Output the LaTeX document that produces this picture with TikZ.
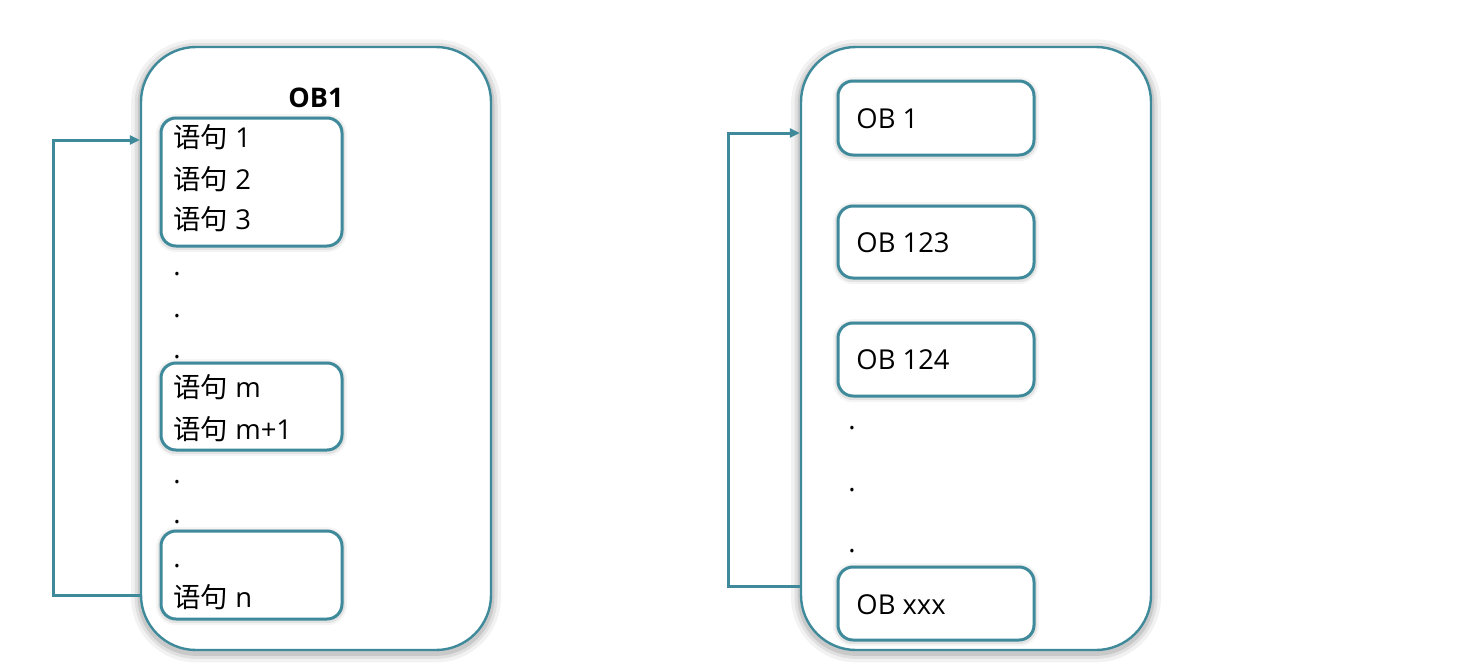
\documentclass[tikz,border=0pt]{standalone}
\usepackage{fontspec}
\setmainfont{Open Sans}
\newfontfamily\cjk{Noto Sans CJK SC}
\usetikzlibrary{arrows.meta}
\definecolor{tealline}{RGB}{62,138,155}
\begin{document}
\begin{tikzpicture}[x=0.5pt,y=-0.5pt,
  bigbox/.style={draw=tealline, line width=1.2pt, rounded corners=27.5pt, fill=white,
    minimum width=175pt, minimum height=301.5pt, inner sep=0pt,
    preaction={draw=black, draw opacity=0.05, line width=10pt, transform canvas={yshift=-1.2pt}},
    preaction={draw=black, draw opacity=0.07, line width=6.5pt, transform canvas={yshift=-1.2pt}},
    preaction={draw=black, draw opacity=0.10, line width=3.5pt, transform canvas={yshift=-1.2pt}}},
  smallbox/.style={draw=tealline, line width=1.5pt, rounded corners=7.5pt, fill=white, inner sep=0pt,
    preaction={draw=black, draw opacity=0.04, line width=5pt, transform canvas={yshift=-0.6pt}},
    preaction={draw=black, draw opacity=0.07, line width=3pt, transform canvas={yshift=-0.6pt}}},
  lbox/.style={smallbox, minimum width=90.5pt},
  rbox/.style={smallbox, minimum width=98pt},
  txt/.style={anchor=west, inner sep=0pt, font=\fontsize{13.7}{16}\selectfont, text height=10.5pt, text depth=2.8pt},
  conn/.style={draw=tealline, line width=1.5pt, -{Triangle[length=5pt,width=4.5pt]}}
]
\useasboundingbox (0,0) rectangle (1476,664);
\fill[white] (0,0) rectangle (1476,664);

% big containers
\node[bigbox] (Lbig) at (316,348.5) {};
\node[bigbox] (Rbig) at (976,348.5) {};

% left column
\node[font=\fontsize{13.5}{16}\selectfont\bfseries, inner sep=0pt] (title) at (316,98) {OB1};
\node[lbox, minimum height=64pt] (b1) at (251.5,182) {};
\node[lbox, minimum height=43.5pt] (b2) at (251.5,406.5) {};
\node[lbox, minimum height=44pt] (b3) at (251.5,575) {};

\node[txt] (s1) at (173,140) {{\cjk 语句} 1};
\node[txt] (s2) at (173,182) {{\cjk 语句} 2};
\node[txt] (s3) at (173,222) {{\cjk 语句} 3};
\node[txt] (d1) at (173,268) {.};
\node[txt] (d2) at (173,310) {.};
\node[txt] (d3) at (173,351) {.};
\node[txt] (sm) at (173,390) {{\cjk 语句} m};
\node[txt] (sm1) at (173,432) {{\cjk 语句} m+1};
\node[txt] (d4) at (173,476) {.};
\node[txt] (d5) at (173,516) {.};
\node[txt] (d6) at (173,560) {.};
\node[txt] (sn) at (173,600) {{\cjk 语句} n};

% right column
\node[rbox, minimum height=37pt] (o1) at (936,118) {};
\node[rbox, minimum height=36pt] (o2) at (936,242) {};
\node[rbox, minimum height=36.5pt] (o3) at (936,359.5) {};
\node[rbox, minimum height=36.5pt] (o4) at (936,603.5) {};
\node[txt] (t1) at (856,121) {OB 1};
\node[txt] (t2) at (856,245) {OB 123};
\node[txt] (t3) at (856,362) {OB 124};
\node[txt] (t4) at (856,607) {OB xxx};
\node[txt] (e1) at (848,422) {.};
\node[txt] (e2) at (848,484) {.};
\node[txt] (e3) at (848,545) {.};

% loop connectors
\coordinate (lb) at (53,595);
\coordinate (lt) at (53,140);
\draw[conn] (Lbig.west |- lb) -- (lb) -- (lt) -- (Lbig.west |- lt);
\coordinate (rb) at (728,586);
\coordinate (rt) at (728,133);
\draw[conn] (Rbig.west |- rb) -- (rb) -- (rt) -- (Rbig.west |- rt);
\end{tikzpicture}
\end{document}
